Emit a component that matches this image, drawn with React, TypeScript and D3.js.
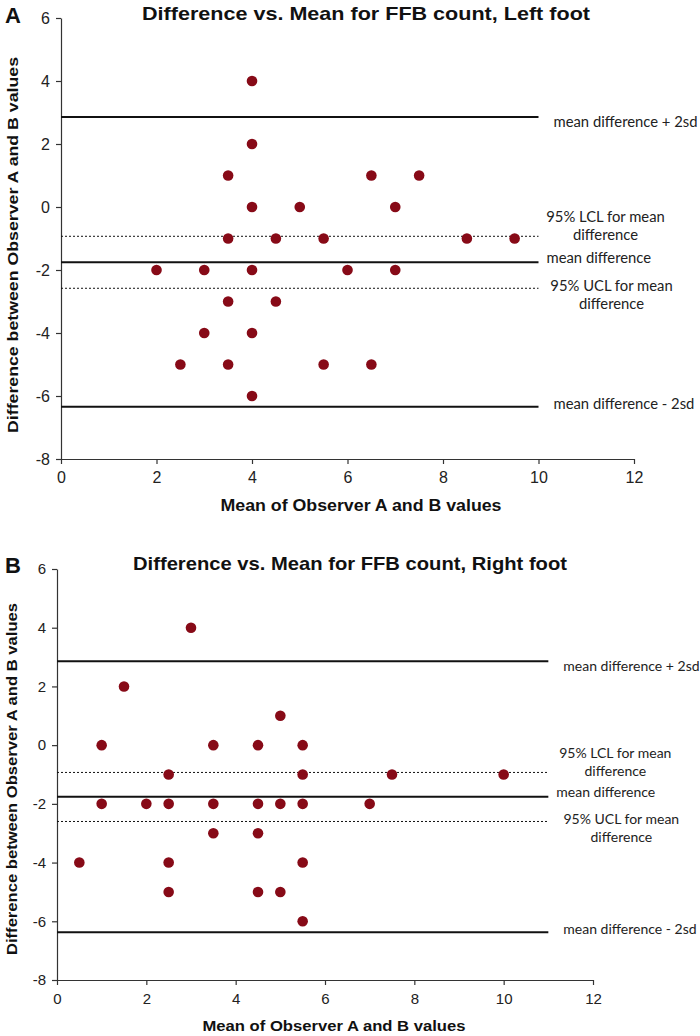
import { useEffect, useRef } from "react";
import * as d3 from "d3";

// panel A - left foot
const LEFT_MEAN = [4, 4, 3.5, 6.5, 7.5, 4, 5, 7, 3.5, 4.5, 5.5, 8.5, 9.5, 2, 3, 4, 6, 7, 3.5, 4.5, 3, 4, 2.5, 3.5, 5.5, 6.5, 4];
const LEFT_DIFF = [4, 2, 1, 1, 1, 0, 0, 0, -1, -1, -1, -1, -1, -2, -2, -2, -2, -2, -3, -3, -4, -4, -5, -5, -5, -5, -6];

// panel B - right foot
const RIGHT_MEAN = [3, 1.5, 5, 1, 3.5, 4.5, 5.5, 2.5, 5.5, 7.5, 10, 1, 2, 2.5, 3.5, 4.5, 5, 5.5, 7, 3.5, 4.5, 0.5, 2.5, 5.5, 2.5, 4.5, 5, 5.5];
const RIGHT_DIFF = [4, 2, 1, 0, 0, 0, 0, -1, -1, -1, -1, -2, -2, -2, -2, -2, -2, -2, -2, -3, -3, -4, -4, -4, -5, -5, -5, -6];

// reference lines: +2sd, LCL, mean, UCL, -2sd
const LIMIT_KEYS = ["upper", "lcl", "mean", "ucl", "lower"];
const LEFT_LIMITS = [2.86, -0.93, -1.75, -2.58, -6.34];
const RIGHT_LIMITS = [2.86, -0.93, -1.76, -2.6, -6.37];
const LIMIT_LABELS = [
  ["mean difference + 2sd"],
  ["95% LCL for mean", "difference"],
  ["mean difference"],
  ["95% UCL for mean", "difference"],
  ["mean difference - 2sd"],
];

const X_TICKS = [0, 2, 4, 6, 8, 10, 12];
const Y_TICKS = [6, 4, 2, 0, -2, -4, -6, -8];

const DOT = "#870a17";
const ARIAL = "'Liberation Sans', Arial, sans-serif";
const LABEL_FONT = "Lato, 'Open Sans', sans-serif";

type PanelProps = {
  letter: string;
  title: string;
  means: number[];
  diffs: number[];
  limits: number[];
  lineEnd: number;
  box: { left: number; right: number; top: number; bottom: number };
  k: number; // font scale of the panel
  titleX: number;
  titleY: number;
  titleW: number;
  xLabelX: number;
  xLabelY: number;
  xLabelW: number;
  yLabelY: number;
  yLabelW: number;
  noteSize: number;
};

function Panel(p: PanelProps) {
  const ref = useRef<SVGGElement>(null);

  useEffect(() => {
    const g = d3.select(ref.current);
    g.selectAll("*").remove();
    const { left, right, top, bottom } = p.box;

    const x = d3.scaleLinear().domain([0, 12]).range([left, right]);
    const y = d3.scaleLinear().domain([-8, 6]).range([bottom, top]);

    // axes
    const xa = g
      .append("g")
      .attr("transform", `translate(0,${bottom})`)
      .call(d3.axisBottom(x).tickValues(X_TICKS).tickSize(5).tickSizeOuter(0).tickPadding(8));
    const ya = g
      .append("g")
      .attr("transform", `translate(${left},0)`)
      .call(d3.axisLeft(y).tickValues(Y_TICKS).tickSize(5).tickSizeOuter(0).tickPadding(6));
    [xa, ya].forEach((a) => {
      a.select(".domain").attr("stroke", "#333").attr("stroke-width", 1.2);
      a.selectAll(".tick line").attr("stroke", "#333").attr("stroke-width", 1.2);
      a.selectAll(".tick text")
        .attr("font-family", ARIAL)
        .attr("font-size", 16 * p.k)
        .attr("fill", "#222");
    });
    ya.selectAll(".tick text").text((d: any) => (d < 0 ? "-" + Math.abs(d) : String(d)));

    // reference lines
    const lines = LIMIT_KEYS.map((key, i) => ({ key, v: p.limits[i], label: LIMIT_LABELS[i] }));
    const dotted = (key: string) => key === "lcl" || key === "ucl";
    g.append("g")
      .selectAll("line")
      .data(lines)
      .join("line")
      .attr("x1", x(0))
      .attr("x2", x(p.lineEnd))
      .attr("y1", (d) => y(d.v))
      .attr("y2", (d) => y(d.v))
      .attr("stroke", "#111")
      .attr("stroke-width", (d) => (dotted(d.key) ? 1 : 2))
      .attr("stroke-dasharray", (d) => (dotted(d.key) ? "2 2" : null));

    // line labels
    const end = x(p.lineEnd);
    const place: Record<string, { dx: number; anchor: string; dy: number[] }> = {
      upper: { dx: 15, anchor: "start", dy: [4] },
      lcl: { dx: 67, anchor: "middle", dy: [-20, -2] },
      mean: { dx: 8, anchor: "start", dy: [-5] },
      ucl: { dx: 73, anchor: "middle", dy: [-3, 15] },
      lower: { dx: 15, anchor: "start", dy: [-4] },
    };
    lines.forEach((d) => {
      const pl = place[d.key];
      d.label.forEach((t, j) => {
        g.append("text")
          .attr("x", end + pl.dx)
          .attr("y", y(d.v) + pl.dy[j])
          .attr("dominant-baseline", "central")
          .attr("text-anchor", pl.anchor)
          .attr("font-family", LABEL_FONT)
          .attr("font-size", p.noteSize)
          .attr("fill", "#222")
          .text(t);
      });
    });

    // points
    g.append("g")
      .selectAll("circle")
      .data(p.means.map((m, i) => ({ m, d: p.diffs[i] })))
      .join("circle")
      .attr("cx", (d) => x(d.m))
      .attr("cy", (d) => y(d.d))
      .attr("r", 5.3)
      .attr("fill", DOT);

    // titles
    g.append("text")
      .attr("x", p.titleX)
      .attr("y", p.titleY)
      .attr("text-anchor", "middle")
      .attr("dominant-baseline", "central")
      .attr("font-family", ARIAL)
      .attr("font-weight", "bold")
      .attr("font-size", 18.5)
      .attr("textLength", p.titleW)
      .attr("lengthAdjust", "spacingAndGlyphs")
      .attr("fill", "#111")
      .text(p.title);
    g.append("text")
      .attr("x", 5)
      .attr("y", p.titleY + 2)
      .attr("dominant-baseline", "central")
      .attr("font-family", ARIAL)
      .attr("font-weight", "bold")
      .attr("font-size", 22)
      .attr("fill", "#111")
      .text(p.letter);
    g.append("text")
      .attr("x", p.xLabelX)
      .attr("y", p.xLabelY)
      .attr("text-anchor", "middle")
      .attr("dominant-baseline", "central")
      .attr("font-family", ARIAL)
      .attr("font-weight", "bold")
      .attr("font-size", 16 * p.k)
      .attr("textLength", p.xLabelW)
      .attr("lengthAdjust", "spacingAndGlyphs")
      .attr("fill", "#111")
      .text("Mean of Observer A and B values");
    g.append("text")
      .attr("transform", `translate(12,${p.yLabelY}) rotate(-90)`)
      .attr("text-anchor", "middle")
      .attr("dominant-baseline", "central")
      .attr("font-family", ARIAL)
      .attr("font-weight", "bold")
      .attr("font-size", 15.5 * p.k)
      .attr("textLength", p.yLabelW)
      .attr("lengthAdjust", "spacingAndGlyphs")
      .attr("fill", "#111")
      .text("Difference between Observer A and B values");
  }, [p]);

  return <g ref={ref} />;
}

export default function App() {
  return (
    <svg
      width={700}
      height={1036}
      style={{ position: "absolute", left: 0, top: 0, background: "#fff" }}
    >
      <Panel
        letter="A"
        title="Difference vs. Mean for FFB count, Left foot"
        means={LEFT_MEAN}
        diffs={LEFT_DIFF}
        limits={LEFT_LIMITS}
        lineEnd={10}
        box={{ left: 61, right: 634, top: 18, bottom: 459 }}
        k={1}
        titleX={366}
        titleY={13}
        titleW={448}
        xLabelX={361}
        xLabelY={505}
        xLabelW={281}
        yLabelY={245}
        yLabelW={376}
        noteSize={14.8}
      />
      <Panel
        letter="B"
        title="Difference vs. Mean for FFB count, Right foot"
        means={RIGHT_MEAN}
        diffs={RIGHT_DIFF}
        limits={RIGHT_LIMITS}
        lineEnd={11}
        box={{ left: 57, right: 593, top: 569, bottom: 980 }}
        k={0.94}
        titleX={350}
        titleY={563}
        titleW={434}
        xLabelX={334}
        xLabelY={1025}
        xLabelW={263}
        yLabelY={779}
        yLabelW={352}
        noteSize={14}
      />
    </svg>
  );
}
